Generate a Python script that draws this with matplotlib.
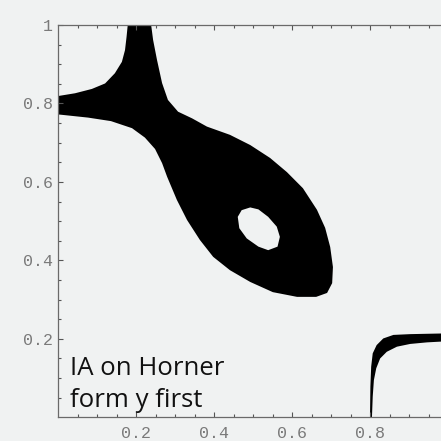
import matplotlib
matplotlib.use("Agg")
import matplotlib.pyplot as plt
from matplotlib.path import Path
from matplotlib.patches import PathPatch
from matplotlib.ticker import FixedLocator, FixedFormatter

# Outline of the large region: upper-left arm, top arm, fish body, back along the lower edge
body_x = [0.000, 0.043, 0.086, 0.120, 0.145, 0.163, 0.171, 0.175, 0.178,
          0.238, 0.243, 0.253, 0.266, 0.281, 0.307, 0.343, 0.381, 0.440,
          0.492, 0.543, 0.586, 0.627, 0.663, 0.684, 0.697, 0.704, 0.702,
          0.689, 0.661, 0.612, 0.550, 0.492, 0.440, 0.397, 0.363, 0.330,
          0.304, 0.279, 0.266, 0.248, 0.222, 0.189, 0.135, 0.076, 0.000]
body_y = [0.819, 0.826, 0.837, 0.851, 0.877, 0.906, 0.936, 0.970, 1.000,
          1.000, 0.962, 0.911, 0.852, 0.809, 0.779, 0.762, 0.741, 0.720,
          0.694, 0.661, 0.625, 0.584, 0.529, 0.483, 0.434, 0.383, 0.342,
          0.317, 0.307, 0.307, 0.319, 0.345, 0.375, 0.409, 0.452, 0.503,
          0.554, 0.613, 0.648, 0.684, 0.713, 0.737, 0.755, 0.764, 0.772]

# Oval hole inside the body
hole_x = [0.460, 0.470, 0.492, 0.513, 0.538, 0.560, 0.568, 0.562,
          0.538, 0.513, 0.483, 0.464]
hole_y = [0.511, 0.528, 0.535, 0.530, 0.511, 0.486, 0.460, 0.435,
          0.426, 0.435, 0.456, 0.482]

# Thin bent band in the lower-right corner (outer edge, then inner edge back)
corner_x = [0.799, 0.800, 0.802, 0.806, 0.816, 0.833, 0.859, 0.902, 1.000,
            1.000, 0.945, 0.902, 0.868, 0.842, 0.825, 0.815, 0.809, 0.806, 0.804]
corner_y = [0.000, 0.078, 0.129, 0.163, 0.184, 0.201, 0.210, 0.212, 0.214,
            0.194, 0.191, 0.187, 0.180, 0.167, 0.150, 0.125, 0.095, 0.053, 0.000]

x_major = [0.2, 0.4, 0.6, 0.8]
x_labels = ["0.2", "0.4", "0.6", "0.8"]
y_major = [0.2, 0.4, 0.6, 0.8, 1.0]
y_labels = ["0.2", "0.4", "0.6", "0.8", "1"]
minor = [i * 0.05 for i in range(21) if i % 4 != 0]

caption = ["IA on Horner", "form y first"]

bg = "#f0f2f2"
fig = plt.figure(figsize=(4.41, 4.41), dpi=100, facecolor=bg)
ax = fig.add_axes([58.3 / 441, (441 - 417.3) / 441, (441 - 58.3) / 441, 392.3 / 441])
ax.set_facecolor(bg)
ax.set_xlim(0, 0.981)
ax.set_ylim(0, 1)


def ring(xs, ys):
    verts = list(zip(xs, ys)) + [(xs[0], ys[0])]
    codes = [Path.MOVETO] + [Path.LINETO] * (len(xs) - 1) + [Path.CLOSEPOLY]
    return Path(verts, codes)


body = ring(body_x, body_y)
hole = ring(hole_x[::-1], hole_y[::-1])
shape = Path.make_compound_path(body, hole)
ax.add_patch(PathPatch(shape, facecolor="black", edgecolor="none", clip_on=True))
ax.add_patch(PathPatch(ring(corner_x, corner_y), facecolor="black", edgecolor="none"))

for side in ["left", "bottom", "top"]:
    ax.spines[side].set_color("#6a6a6a")
    ax.spines[side].set_linewidth(0.9)
ax.spines["right"].set_visible(False)

ax.xaxis.set_major_locator(FixedLocator(x_major))
ax.xaxis.set_major_formatter(FixedFormatter(x_labels))
ax.yaxis.set_major_locator(FixedLocator(y_major))
ax.yaxis.set_major_formatter(FixedFormatter(y_labels))
ax.xaxis.set_minor_locator(FixedLocator(minor))
ax.yaxis.set_minor_locator(FixedLocator(minor))

ax.tick_params(which="both", direction="in", top=True, right=False,
               color="#555555", width=0.8)
ax.tick_params(which="major", length=3.5)
ax.tick_params(which="minor", length=2)
ax.tick_params(axis="x", pad=6)
ax.tick_params(axis="y", pad=4)
for lab in ax.get_xticklabels() + ax.get_yticklabels():
    lab.set_fontfamily("Liberation Mono")
    lab.set_fontsize(12)
    lab.set_color("#7a7a7a")

ax.text(0.030, 0.108, caption[0], fontsize=18.5, family="Open Sans",
        color="#111111", va="baseline", ha="left")
ax.text(0.030, 0.027, caption[1], fontsize=18.5, family="Open Sans",
        color="#111111", va="baseline", ha="left")

fig.savefig("out.png", dpi=100, facecolor=bg)
